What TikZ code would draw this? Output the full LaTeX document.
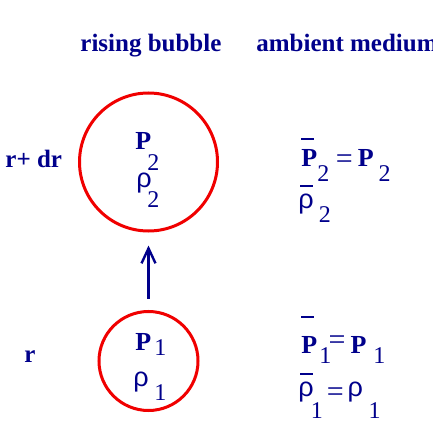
\documentclass[tikz,border=0pt]{standalone}
\usepackage{fontspec}
\setmainfont{Liberation Serif}
\setsansfont{Liberation Sans}
\usepackage{tikz}
\usetikzlibrary{arrows.meta, positioning}
\definecolor{navy}{RGB}{0,0,139}
\definecolor{bubblered}{RGB}{240,0,0}
\newcommand{\bP}{{\fontsize{13}{15}\selectfont\bfseries P}}
\newcommand{\rh}{{\fontsize{13.5}{15}\selectfont\sffamily ρ}}
\newcommand{\dn}[2]{\raisebox{-#1}{\fontsize{12}{14}\selectfont #2}}
\newcommand{\eqs}[1]{\raisebox{#1}{\fontsize{15}{17}\selectfont =}}
\newcommand{\ovl}[3]{\rlap{\hspace{#1}\raisebox{#2}{\rule{6.5pt}{0.8pt}}}#3}

\begin{document}
\begin{tikzpicture}[x=0.5pt, y=-0.5pt, >=Stealth]
  \tikzstyle{heading} = [font=\fontsize{12.5}{15}\selectfont\bfseries, text=navy, inner sep=0pt, anchor=base west]
  \tikzstyle{sym} = [text=navy, inner sep=0pt, anchor=base west]
  \tikzstyle{bubble} = [circle, draw=bubblered, line width=1.5pt, inner sep=0pt]

  \useasboundingbox (0,0) rectangle (433,427);

  \node [heading] (bubhead) at (80,52) {rising bubble};
  \node [heading] (ambhead) at (256,52) {ambient medium};
  \node [heading] (rdr) at (5,168) {r+ dr};
  \node [heading] (rlow) at (24,362) {r};

  \node [bubble, minimum size=69pt] (big) at (148.5,162) {};
  \node [bubble, minimum size=49.5pt] (small) at (148.5,361) {};
  \draw [-{Straight Barb[length=7.5pt, width=7pt]}, navy, line width=1.2pt, shorten <=5.75pt, shorten >=6.5pt] (small) -- (big);

  % inside the bubbles
  \node [sym] (p2in) at (135,150) {\bP\hspace{-2pt}\dn{10pt}{2}};
  \node [sym] (rho2in) at (136,188) {\rh\hspace{-2.2pt}\dn{9.5pt}{2}};
  \node [sym] (p1in) at (135,350) {\bP\hspace{1.5pt}\dn{2.5pt}{1}};
  \node [sym] (rho1in) at (133,386) {\rh\hspace{2.8pt}\dn{7pt}{1}};

  % ambient medium
  \node [sym] (p2out) at (301,167) {\ovl{0pt}{13.5pt}{\bP}\dn{7.5pt}{2}\hspace{3.3pt}\eqs{-0.75pt}\hspace{2.5pt}\bP\hspace{2.5pt}\dn{7.5pt}{2}};
  \node [sym] (rho2out) at (298,209) {\ovl{1pt}{11pt}{\rh}\hspace{2.5pt}\dn{6.5pt}{2}};
  \node [sym] (p1out) at (301,353) {\ovl{0pt}{17.5pt}{\bP}\hspace{1pt}\dn{5pt}{1}\hspace{-1.3pt}\eqs{1.75pt}\hspace{2.5pt}\bP\hspace{3.5pt}\dn{5pt}{1}};
  \node [sym] (rho1out) at (298,396) {\ovl{1pt}{10.5pt}{\rh}\hspace{-1.5pt}\dn{11pt}{1}\hspace{2pt}\eqs{-2.75pt}\hspace{2pt}\rh\hspace{2.8pt}\dn{11pt}{1}};
\end{tikzpicture}
\end{document}
